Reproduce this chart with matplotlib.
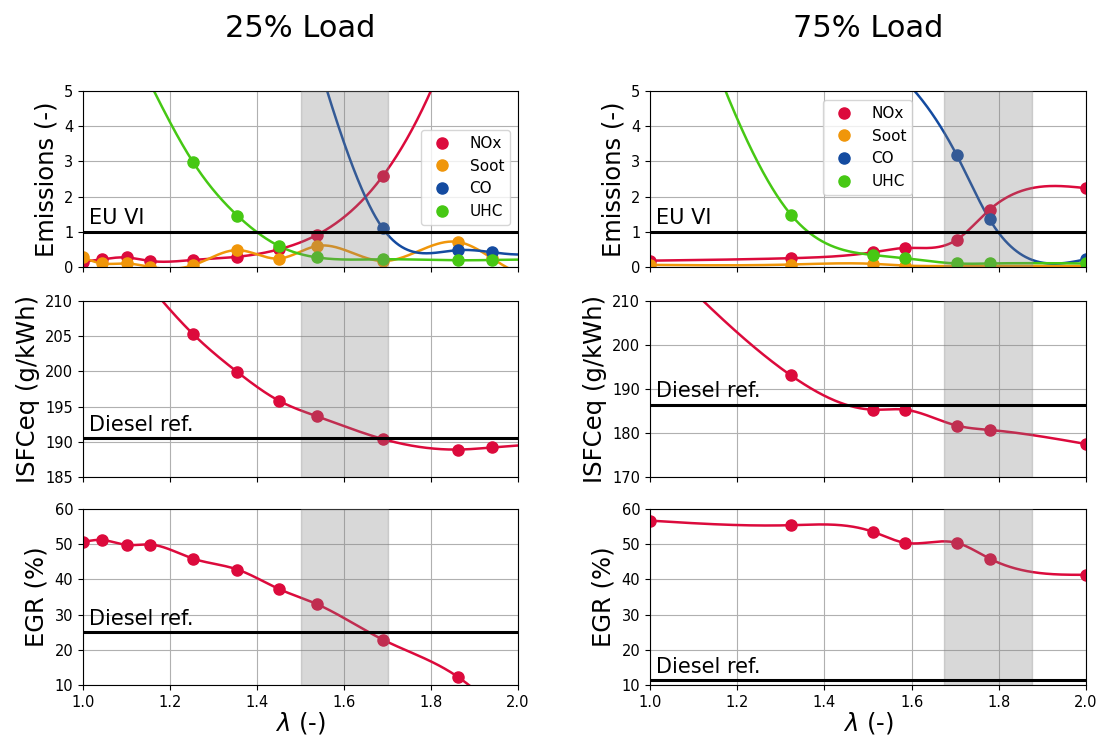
import numpy as np
import matplotlib
matplotlib.use("Agg")
import matplotlib.pyplot as plt

# ---------------- data ----------------
lam_25 = [1.0, 1.044, 1.10, 1.155, 1.253, 1.355, 1.45, 1.539, 1.689, 1.863, 1.94]
nox_25 = [0.15, 0.22, 0.27, 0.17, 0.20, 0.29, 0.50, 0.92, 2.58, 7.0, 10.0]
soot_25 = [0.27, 0.10, 0.10, 0.0, 0.05, 0.48, 0.24, 0.60, 0.17, 0.71, 0.25]
co_25 = [37.0, 34.0, 30.0, 26.0, 20.0, 14.5, 9.8, 5.9, 1.10, 0.48, 0.42]
uhc_25 = [11.0, 8.5, 6.6, 5.2, 2.98, 1.46, 0.60, 0.27, 0.22, 0.19, 0.20]
isfc_25 = [222.0, 219.5, 216.0, 212.0, 205.3, 199.9, 195.85, 193.6, 190.4, 188.9, 189.2]
egr_25 = [50.6, 51.2, 49.8, 49.9, 45.9, 42.8, 37.3, 32.9, 22.9, 12.2, 4.5]

lam_75 = [1.0, 1.323, 1.512, 1.585, 1.703, 1.779, 2.0]
nox_75 = [0.18, 0.25, 0.42, 0.54, 0.77, 1.63, 2.24]
soot_75 = [0.06, 0.07, 0.09, 0.04, 0.03, 0.03, 0.03]
co_75 = [9.0, 7.6, 6.1, 5.3, 3.19, 1.35, 0.22]
uhc_75 = [11.0, 1.49, 0.34, 0.25, 0.10, 0.10, 0.10]
isfc_75 = [222.0, 193.1, 185.3, 185.3, 181.7, 180.7, 177.5]
egr_75 = [56.7, 55.4, 53.5, 50.4, 50.4, 45.9, 41.3]

eu_vi = 1.0
isfc_ref_25, isfc_ref_75 = 190.5, 186.4
egr_ref_25, egr_ref_75 = 25.0, 11.4
window_25 = (1.5, 1.7)
window_75 = (1.675, 1.875)

species = ["NOx", "Soot", "CO", "UHC"]
colors = {"NOx": "#DC0A3C", "Soot": "#F0960A", "CO": "#144BA0", "UHC": "#46C814"}
red = colors["NOx"]


def spline(x, y, xs):
    """Natural cubic spline, extrapolated with its end pieces."""
    x = np.asarray(x, float)
    y = np.asarray(y, float)
    m = len(x) - 1
    A = np.zeros((4 * m, 4 * m))
    b = np.zeros(4 * m)
    r = 0
    for i in range(m):
        h = x[i + 1] - x[i]
        A[r, 4 * i] = 1; b[r] = y[i]; r += 1
        A[r, 4 * i:4 * i + 4] = [1, h, h * h, h ** 3]; b[r] = y[i + 1]; r += 1
    for i in range(m - 1):
        h = x[i + 1] - x[i]
        A[r, 4 * i + 1] = 1; A[r, 4 * i + 2] = 2 * h; A[r, 4 * i + 3] = 3 * h * h
        A[r, 4 * (i + 1) + 1] = -1; r += 1
        A[r, 4 * i + 2] = 2; A[r, 4 * i + 3] = 6 * h
        A[r, 4 * (i + 1) + 2] = -2; r += 1
    hl = x[m] - x[m - 1]
    A[r, 2] = 1; r += 1
    A[r, 4 * (m - 1) + 2] = 2; A[r, 4 * (m - 1) + 3] = 6 * hl; r += 1
    c = np.linalg.solve(A, b).reshape(m, 4)
    xs = np.asarray(xs, float)
    idx = np.clip(np.searchsorted(x, xs) - 1, 0, m - 1)
    t = xs - x[idx]
    cc = c[idx]
    return cc[:, 0] + cc[:, 1] * t + cc[:, 2] * t ** 2 + cc[:, 3] * t ** 3


xs = np.linspace(1.0, 2.0, 600)

fig = plt.figure(figsize=(11.02, 7.40), dpi=100)
W, H = 1102, 740
lefts = [83, 650]
widths = [435, 436]
tops = [91, 301, 509]
ah = 176

TICK = 10.5
LAB = 17.5
TXT = 15

axes = []
for c in range(2):
    col = []
    for r in range(3):
        ax = fig.add_axes([lefts[c] / W, 1 - (tops[r] + ah) / H, widths[c] / W, ah / H])
        col.append(ax)
    axes.append(col)

panels = [
    dict(lam=lam_25, em=dict(NOx=nox_25, Soot=soot_25, CO=co_25, UHC=uhc_25),
         isfc=isfc_25, egr=egr_25, iref=isfc_ref_25, eref=egr_ref_25,
         win=window_25, iylim=(185, 210), iyt=np.arange(185, 211, 5),
         leg=dict(loc="upper right", bbox_to_anchor=(0.982, 0.778)), title="25% Load"),
    dict(lam=lam_75, em=dict(NOx=nox_75, Soot=soot_75, CO=co_75, UHC=uhc_75),
         isfc=isfc_75, egr=egr_75, iref=isfc_ref_75, eref=egr_ref_75,
         win=window_75, iylim=(170, 210), iyt=np.arange(170, 211, 10),
         leg=dict(loc="upper left", bbox_to_anchor=(0.396, 0.949)), title="75% Load"),
]

for c, p in enumerate(panels):
    a_em, a_is, a_egr = axes[c]
    lam = p["lam"]
    # emissions
    for s in species:
        a_em.plot(xs, spline(lam, p["em"][s], xs), color=colors[s], lw=1.8, zorder=2)
        a_em.plot(lam, p["em"][s], "o", color=colors[s], ms=8, zorder=2.5, label=s)
    a_em.axhline(eu_vi, color="k", lw=2.2, zorder=4)
    a_em.text(1.013, eu_vi + 0.1, "EU VI", fontsize=TXT, va="bottom", ha="left")
    a_em.set_ylim(0, 5)
    a_em.set_yticks(range(0, 6))
    a_em.set_ylabel("Emissions (-)", fontsize=LAB)
    leg = a_em.legend(fontsize=11, borderaxespad=0, **p["leg"])
    leg.set_zorder(6)

    # ISFC
    a_is.plot(xs, spline(lam, p["isfc"], xs), color=red, lw=1.8, zorder=2)
    a_is.plot(lam, p["isfc"], "o", color=red, ms=8, zorder=2.5)
    a_is.axhline(p["iref"], color="k", lw=2.2, zorder=4)
    a_is.text(1.013, p["iref"] + (p["iylim"][1] - p["iylim"][0]) * 0.02, "Diesel ref.",
              fontsize=TXT, va="bottom", ha="left")
    a_is.set_ylim(*p["iylim"])
    a_is.set_yticks(p["iyt"])
    a_is.set_ylabel("ISFCeq (g/kWh)", fontsize=LAB)

    # EGR
    a_egr.plot(xs, spline(lam, p["egr"], xs), color=red, lw=1.8, zorder=2)
    a_egr.plot(lam, p["egr"], "o", color=red, ms=8, zorder=2.5)
    a_egr.axhline(p["eref"], color="k", lw=2.2, zorder=4)
    a_egr.text(1.013, p["eref"] + 1.0, "Diesel ref.", fontsize=TXT, va="bottom", ha="left")
    a_egr.set_ylim(10, 60)
    a_egr.set_yticks(range(10, 61, 10))
    a_egr.set_ylabel("EGR (%)", fontsize=LAB)
    a_egr.set_xlabel(r"$\lambda$ (-)", fontsize=LAB, labelpad=0)

    for ax in (a_em, a_is, a_egr):
        ax.set_xlim(1.0, 2.0)
        ax.set_xticks(np.arange(1.0, 2.01, 0.2))
        ax.grid(True, color="#b0b0b0", lw=0.8, zorder=0)
        ax.set_axisbelow(True)
        ax.axvspan(*p["win"], color="gray", alpha=0.3, zorder=3)
        ax.tick_params(labelsize=TICK)
    a_em.tick_params(labelbottom=False)
    a_is.tick_params(labelbottom=False)

    cx = (lefts[c] + widths[c] / 2) / W
    fig.text(cx, 1 - 37 / H, p["title"], fontsize=22, ha="center", va="baseline")

fig.savefig("out.png", dpi=100)
